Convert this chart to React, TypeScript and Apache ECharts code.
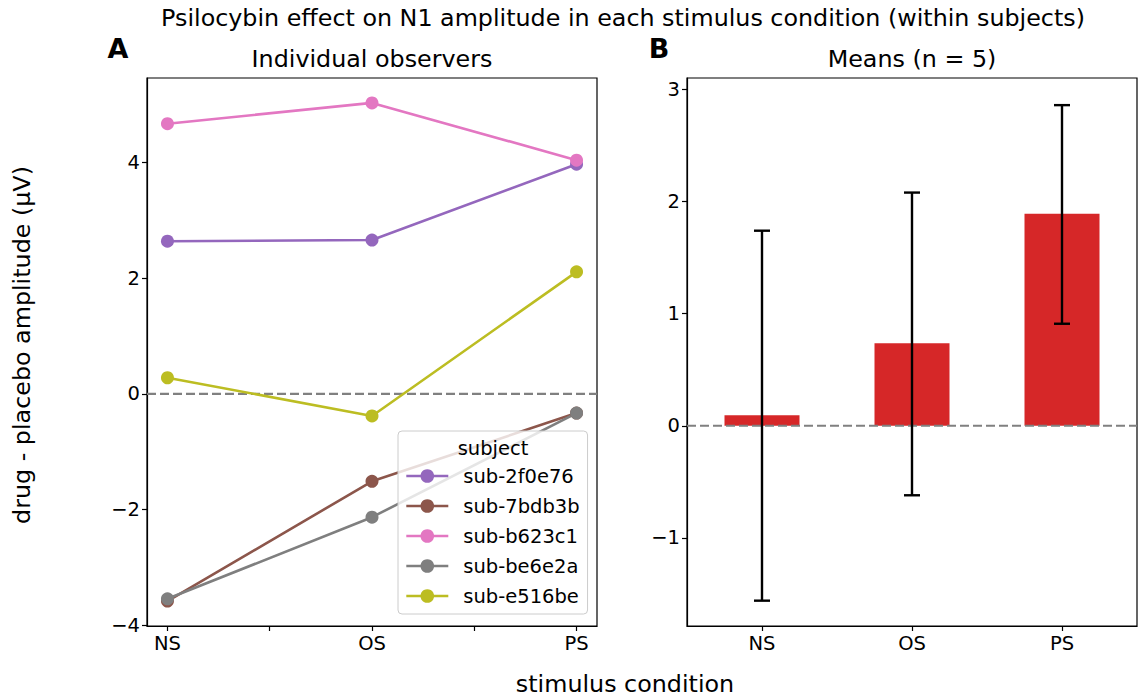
import React, { useEffect, useRef } from "react";
import * as echarts from "echarts";

const categories = ["NS", "OS", "PS"];
const subjects = ["sub-2f0e76", "sub-7bdb3b", "sub-b623c1", "sub-be6e2a", "sub-e516be"];
const subjectColors = ["#9467bd", "#8c564b", "#e377c2", "#7f7f7f", "#bcbd22"];
const sub2f0e76 = [2.64, 2.66, 3.97];
const sub7bdb3b = [-3.58, -1.51, -0.33];
const subb623c1 = [4.67, 5.03, 4.04];
const subbe6e2a = [-3.54, -2.13, -0.33];
const sube516be = [0.28, -0.38, 2.11];
const subjectValues = [sub2f0e76, sub7bdb3b, subb623c1, subbe6e2a, sube516be];
const means = [0.094, 0.736, 1.892];
const errLow = [-1.56, -0.62, 0.91];
const errHigh = [1.74, 2.08, 2.86];
const leftYTicks = [-4, -2, 0, 2, 4];
const rightYTicks = [-1, 0, 1, 2, 3];

const FONT = "DejaVu Sans";
const fmtNum = (v: number) => (v < 0 ? "\u2212" + Math.abs(v) : String(v));

export default function App() {
  const ref = useRef<HTMLDivElement>(null);
  useEffect(() => {
    document.body.style.margin = "0";
    const chart = echarts.init(ref.current!, null, { renderer: "svg" });
    const axisLine = { show: true, onZero: false, lineStyle: { color: "#000", width: 1.2 } };
    const tick = { show: true, length: 5, lineStyle: { color: "#000", width: 1.2 } };
    const lineSeries = subjects.map((name, i) => ({
      name,
      type: "line",
      xAxisIndex: 0,
      yAxisIndex: 0,
      data: subjectValues[i].map((v, j) => [j, v]),
      symbol: "circle",
      symbolSize: 13,
      lineStyle: { color: subjectColors[i], width: 2.6 },
      itemStyle: { color: subjectColors[i] },
      z: 3,
    }));
    const dashed = { color: "#808080", width: 2.2, type: [9, 4] };
    const option: any = {
      animation: false,
      backgroundColor: "#fff",
      grid: [
        { left: 147, width: 450, top: 78, height: 548, show: true, borderColor: "#000", borderWidth: 1.2, backgroundColor: "transparent" },
        { left: 687, width: 450, top: 78, height: 548, show: true, borderColor: "#000", borderWidth: 1.2, backgroundColor: "transparent" },
      ],
      xAxis: [
        {
          type: "value", gridIndex: 0, min: -0.1, max: 2.1,
          axisLine, splitLine: { show: false },
          axisTick: { ...tick, customValues: [0, 0.5, 1, 1.5, 2] },
          axisLabel: {
            customValues: [0, 1, 2],
            formatter: (v: number) => categories[Math.round(v)],
            fontFamily: FONT, fontSize: 19.5, color: "#000", margin: 7,
          },
        },
        {
          type: "category", gridIndex: 1, data: categories,
          axisLine, splitLine: { show: false },
          axisTick: { ...tick, alignWithLabel: true },
          axisLabel: { fontFamily: FONT, fontSize: 19.5, color: "#000", margin: 7 },
        },
        { type: "value", gridIndex: 1, min: 0, max: 1, show: false, axisLine: { show: false, onZero: false } },
      ],
      yAxis: [
        {
          type: "value", gridIndex: 0, min: -4.01, max: 5.46,
          axisLine, splitLine: { show: false },
          axisTick: { ...tick, customValues: leftYTicks },
          axisLabel: { customValues: leftYTicks, formatter: fmtNum, fontFamily: FONT, fontSize: 19.5, color: "#000", margin: 7 },
        },
        {
          type: "value", gridIndex: 1, min: -1.786, max: 3.102,
          axisLine, splitLine: { show: false },
          axisTick: { ...tick, customValues: rightYTicks },
          axisLabel: { customValues: rightYTicks, formatter: fmtNum, fontFamily: FONT, fontSize: 19.5, color: "#000", margin: 7 },
        },
      ],
      legend: {
        data: subjects,
        orient: "vertical",
        left: 398,
        top: 431,
        padding: [35, 8, 8, 7],
        itemWidth: 42,
        itemHeight: 17,
        itemGap: 10,
        backgroundColor: "rgba(255,255,255,0.8)",
        borderColor: "#cccccc",
        borderWidth: 1,
        borderRadius: 4,
        selectedMode: false,
        lineStyle: { width: 2.6 },
        textStyle: { fontFamily: FONT, fontSize: 19.5, color: "#000", lineHeight: 20, padding: [0, 0, 0, 10] },
        z: 10,
      },
      series: [
        {
          type: "line", xAxisIndex: 0, yAxisIndex: 0,
          data: [[-0.1, 0], [2.1, 0]],
          symbol: "none", silent: true,
          lineStyle: dashed,
          z: 2,
        },
        ...lineSeries,
        {
          type: "bar", xAxisIndex: 1, yAxisIndex: 1,
          data: means,
          barWidth: "50%",
          itemStyle: { color: "#d62728" },
          z: 2,
        },
        {
          type: "line", xAxisIndex: 2, yAxisIndex: 1,
          data: [[0, 0], [1, 0]],
          symbol: "none", silent: true,
          lineStyle: dashed,
          z: 3,
        },
        {
          type: "custom", xAxisIndex: 1, yAxisIndex: 1,
          data: categories.map((_, i) => [i, errLow[i], errHigh[i]]),
          z: 4,
          renderItem: (params: any, api: any) => {
            const lo = api.coord([api.value(0), api.value(1)]);
            const hi = api.coord([api.value(0), api.value(2)]);
            const cap = 8;
            const style = { stroke: "#000", lineWidth: 2.4 };
            return {
              type: "group",
              children: [
                { type: "line", shape: { x1: lo[0], y1: lo[1], x2: hi[0], y2: hi[1] }, style },
                { type: "line", shape: { x1: lo[0] - cap, y1: lo[1], x2: lo[0] + cap, y2: lo[1] }, style },
                { type: "line", shape: { x1: hi[0] - cap, y1: hi[1], x2: hi[0] + cap, y2: hi[1] }, style },
              ],
            };
          },
        },
      ],
      graphic: [
        { type: "text", x: 623, y: 18, z: 100, style: { text: "Psilocybin effect on N1 amplitude in each stimulus condition (within subjects)", fontFamily: FONT, fontSize: 23.8, fill: "#000", textAlign: "center", textVerticalAlign: "middle" } },
        { type: "text", x: 372, y: 59, z: 100, style: { text: "Individual observers", fontFamily: FONT, fontSize: 23.8, fill: "#000", textAlign: "center", textVerticalAlign: "middle" } },
        { type: "text", x: 912, y: 59, z: 100, style: { text: "Means (n = 5)", fontFamily: FONT, fontSize: 23.8, fill: "#000", textAlign: "center", textVerticalAlign: "middle" } },
        { type: "text", x: 118, y: 48, z: 100, style: { text: "A", fontFamily: FONT, fontWeight: "bold", fontSize: 27, fill: "#000", textAlign: "center", textVerticalAlign: "middle" } },
        { type: "text", x: 659, y: 48, z: 100, style: { text: "B", fontFamily: FONT, fontWeight: "bold", fontSize: 27, fill: "#000", textAlign: "center", textVerticalAlign: "middle" } },
        { type: "text", x: 625, y: 684, z: 100, style: { text: "stimulus condition", fontFamily: FONT, fontSize: 23.8, fill: "#000", textAlign: "center", textVerticalAlign: "middle" } },
        { type: "text", x: 22, y: 345, rotation: Math.PI / 2, z: 100, style: { text: "drug - placebo amplitude (\u03bcV)", fontFamily: FONT, fontSize: 23.8, fill: "#000", textAlign: "center", textVerticalAlign: "middle" } },
        { type: "text", x: 493, y: 448, z: 100, style: { text: "subject", fontFamily: FONT, fontSize: 19.5, fill: "#000", textAlign: "center", textVerticalAlign: "middle" } },
      ],
    };
    chart.setOption(option);
    return () => chart.dispose();
  }, []);
  return <div ref={ref} style={{ width: 1139, height: 700 }} />;
}
